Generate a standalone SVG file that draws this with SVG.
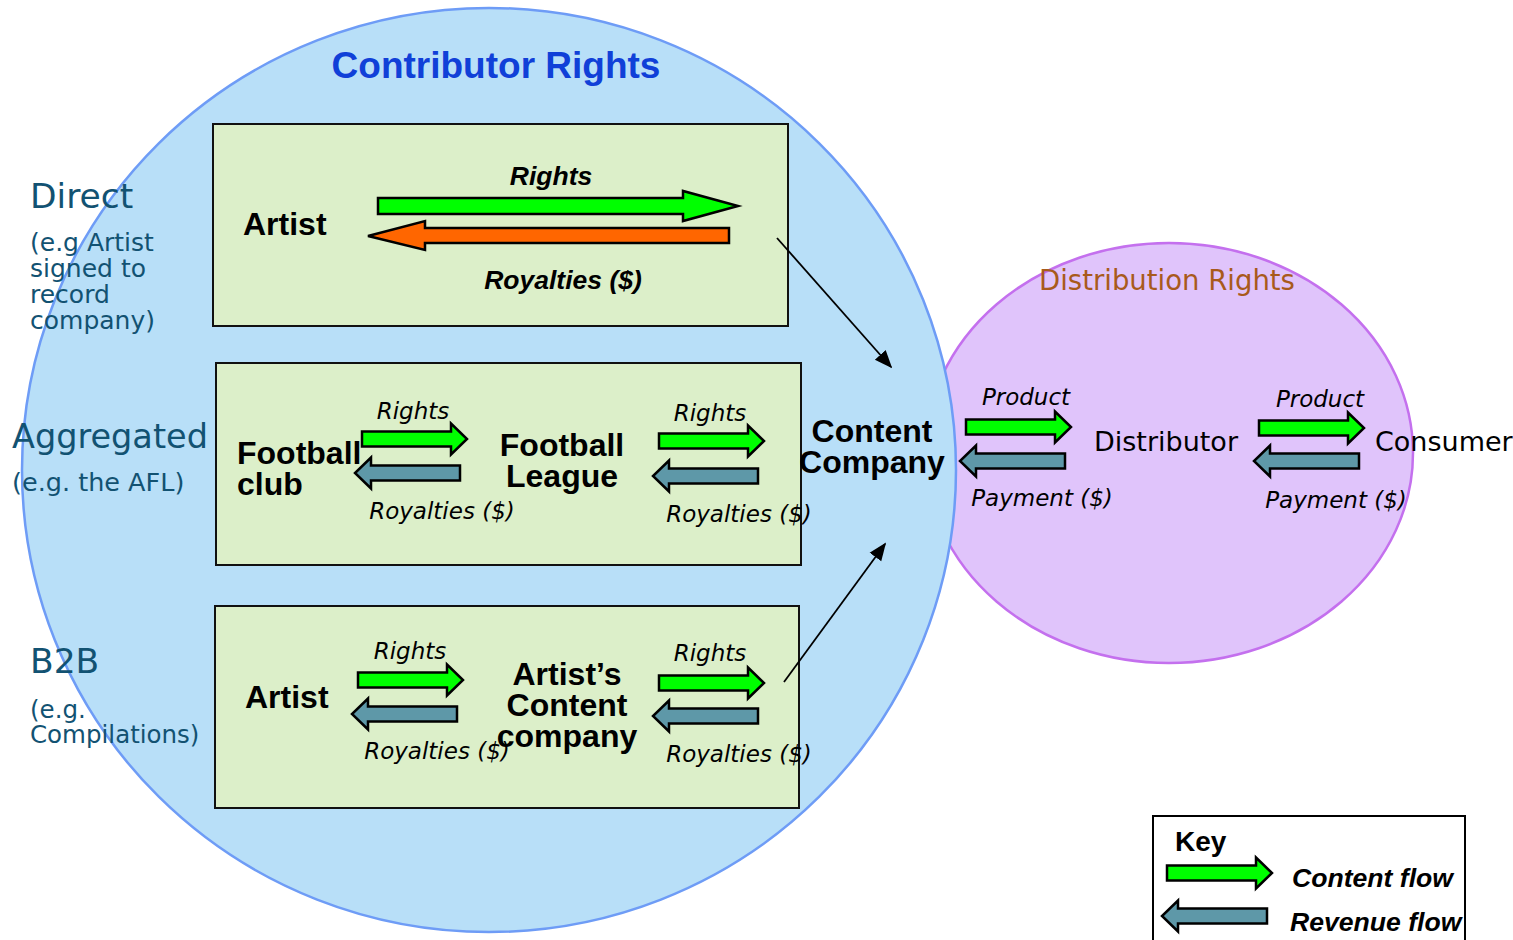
<svg xmlns="http://www.w3.org/2000/svg" xmlns:xlink="http://www.w3.org/1999/xlink" width="1513" height="940" viewBox="0 0 1513 940">
<style>
.box{fill:#dcefc9;stroke:#111;stroke-width:2}
.g{fill:#00ff00;stroke:#000;stroke-width:2.5}
.b{fill:#5e98a8;stroke:#000;stroke-width:2.5}
.o{fill:#ff6600;stroke:#000;stroke-width:2.5}
.bold{font-family:"Liberation Sans",Arial,sans-serif;font-weight:bold;fill:#000}
.bi{font-family:"Liberation Sans",Arial,sans-serif;font-weight:bold;font-style:italic;fill:#000}
.it{font-family:"DejaVu Sans",Verdana,sans-serif;font-style:italic;font-size:23px;fill:#000}
.reg{font-family:"DejaVu Sans",Verdana,sans-serif;fill:#000}
.lab{font-family:"DejaVu Sans",Verdana,sans-serif;fill:#125272}
.node{font-size:32px}
</style>
<defs>
<path id="ar" d="M-105,-7.5 H-16 V-15.5 L0,0 L-16,15.5 V7.5 H-105 Z"/>
<path id="al" d="M105,-7.5 H16 V-15.5 L0,0 L16,15.5 V7.5 H105 Z"/>
<marker id="ah2" viewBox="0 0 10 10" refX="9" refY="5" markerWidth="18" markerHeight="18" markerUnits="userSpaceOnUse" orient="auto"><path d="M0,1 L10,5 L0,9 Z" fill="#000"/></marker>
</defs>

<g id="distribution-rights">
<ellipse cx="1169" cy="453" rx="244" ry="210" fill="#e0c4fb" stroke="#c470ee" stroke-width="2.5"/>
</g>
<g id="contributor-rights">
<ellipse cx="489" cy="470" rx="467" ry="462" fill="#b8dff8" stroke="#6e9cf6" stroke-width="2.5"/>
<text x="496" y="78" text-anchor="middle" class="bold" font-size="37" style="fill:#1040d8">Contributor Rights</text>
</g>
<text x="1167" y="290" text-anchor="middle" font-family="DejaVu Sans, Verdana, sans-serif" font-size="27.5" fill="#a85a1c">Distribution Rights</text>

<g id="left-labels">
<text x="30" y="208" class="lab" font-size="34.5">Direct</text>
<text class="lab" font-size="25"><tspan x="30" y="251">(e.g Artist</tspan><tspan x="30" y="277">signed to</tspan><tspan x="30" y="303">record</tspan><tspan x="30" y="329">company)</tspan></text>
<text x="12" y="448" class="lab" font-size="33.5">Aggregated</text>
<text x="12" y="491" class="lab" font-size="25.5">(e.g. the AFL)</text>
<text x="30" y="673" class="lab" font-size="34.5">B2B</text>
<text class="lab" font-size="24.5"><tspan x="30" y="718">(e.g.</tspan><tspan x="30" y="743">Compilations)</tspan></text>
</g>

<g id="box-direct">
<rect class="box" x="213" y="124" width="575" height="202"/>
<text x="243" y="235" class="bold node">Artist</text>
<text x="551" y="185" text-anchor="middle" class="bi" font-size="26.5">Rights</text>
<path class="g" d="M378,198 H683 V191 L738,206 L683,221 V214 H378 Z"/>
<path class="o" d="M729,228 H425 V221 L368,236 L425,250 V243 H729 Z"/>
<text x="563" y="289" text-anchor="middle" class="bi" font-size="26.5">Royalties ($)</text>
</g>

<g id="box-aggregated">
<rect class="box" x="216" y="363" width="585" height="202"/>
<text class="bold node"><tspan x="237" y="464">Football</tspan><tspan x="237" y="495">club</tspan></text>
<text class="bold node" text-anchor="middle"><tspan x="562" y="456">Football</tspan><tspan x="562" y="487">League</tspan></text>
<text x="413" y="419" text-anchor="middle" class="it">Rights</text>
<use href="#ar" x="467" y="439" class="g"/>
<use href="#al" x="355" y="473" class="b"/>
<text x="442" y="519" text-anchor="middle" class="it">Royalties ($)</text>
<text x="710" y="421" text-anchor="middle" class="it">Rights</text>
<use href="#ar" x="764" y="441" class="g"/>
<use href="#al" x="653" y="476" class="b"/>
<text x="739" y="522" text-anchor="middle" class="it">Royalties ($)</text>
</g>

<g id="box-b2b">
<rect class="box" x="215" y="606" width="584" height="202"/>
<text x="245" y="708" class="bold node">Artist</text>
<text class="bold node" text-anchor="middle"><tspan x="567" y="685">Artist’s</tspan><tspan x="567" y="716">Content</tspan><tspan x="567" y="747">company</tspan></text>
<text x="410" y="659" text-anchor="middle" class="it">Rights</text>
<use href="#ar" x="463" y="680" class="g"/>
<use href="#al" x="352" y="714" class="b"/>
<text x="437" y="759" text-anchor="middle" class="it">Royalties ($)</text>
<text x="710" y="661" text-anchor="middle" class="it">Rights</text>
<use href="#ar" x="764" y="683" class="g"/>
<use href="#al" x="653" y="716" class="b"/>
<text x="739" y="762" text-anchor="middle" class="it">Royalties ($)</text>
</g>

<g id="content-company">
<text class="bold node" text-anchor="middle"><tspan x="872" y="442">Content</tspan><tspan x="872" y="473">Company</tspan></text>
</g>

<g id="distributor">
<text x="1166" y="451" text-anchor="middle" class="reg" font-size="27">Distributor</text>
<text x="1026" y="405" text-anchor="middle" class="it">Product</text>
<use href="#ar" x="1071" y="427" class="g"/>
<use href="#al" x="960" y="461" class="b"/>
<text x="1042" y="506" text-anchor="middle" class="it">Payment ($)</text>
</g>

<g id="consumer">
<text x="1375" y="451" class="reg" font-size="27">Consumer</text>
<text x="1320" y="407" text-anchor="middle" class="it">Product</text>
<use href="#ar" x="1364" y="428" class="g"/>
<use href="#al" x="1254" y="461" class="b"/>
<text x="1336" y="508" text-anchor="middle" class="it">Payment ($)</text>
</g>

<g id="connectors">
<line x1="777" y1="238" x2="891" y2="367" stroke="#000" stroke-width="1.8" marker-end="url(#ah2)"/>
<line x1="784" y1="682" x2="885" y2="544" stroke="#000" stroke-width="1.8" marker-end="url(#ah2)"/>
</g>

<g id="key">
<rect x="1153" y="816" width="312" height="140" fill="#fff" stroke="#000" stroke-width="2"/>
<text x="1175" y="851" class="bold" font-size="28">Key</text>
<use href="#ar" x="1272" y="873" class="g"/>
<text x="1292" y="887" class="bi" font-size="26.6">Content flow</text>
<use href="#al" x="1162" y="916" class="b"/>
<text x="1290" y="931" class="bi" font-size="26.6">Revenue flow</text>
</g>
</svg>
